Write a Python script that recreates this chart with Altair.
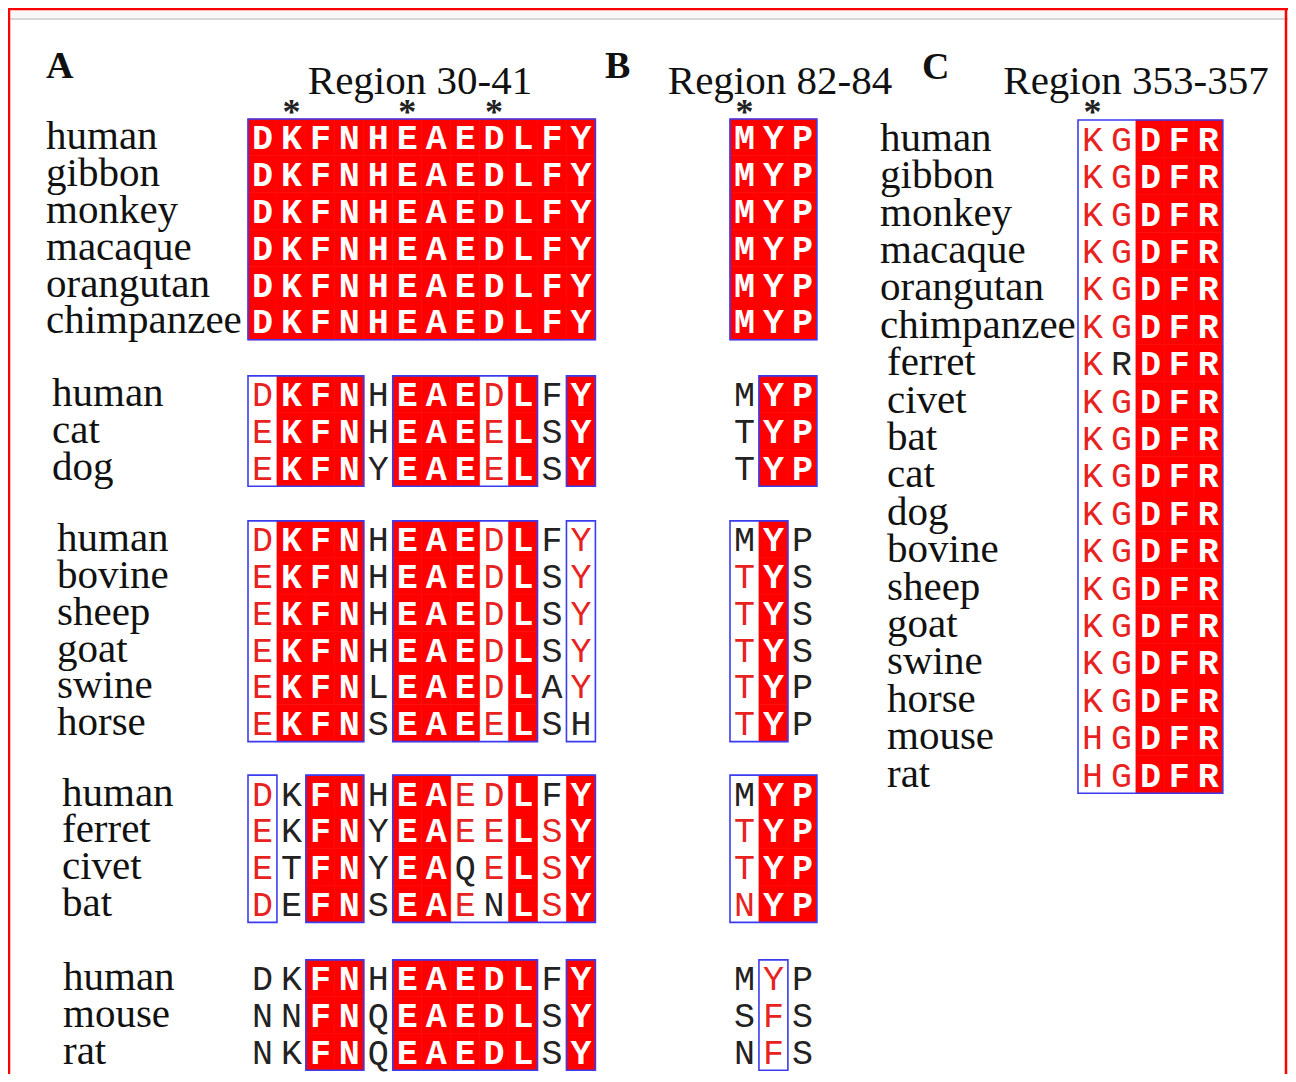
import altair as alt
import pandas as pd

# ---------------- data ----------------
# Panel A : Region 30-41
A_species = [
    ["human", "gibbon", "monkey", "macaque", "orangutan", "chimpanzee"],
    ["human", "cat", "dog"],
    ["human", "bovine", "sheep", "goat", "swine", "horse"],
    ["human", "ferret", "civet", "bat"],
    ["human", "mouse", "rat"],
]
A_seqs = [
    ["DKFNHEAEDLFY", "DKFNHEAEDLFY", "DKFNHEAEDLFY", "DKFNHEAEDLFY", "DKFNHEAEDLFY", "DKFNHEAEDLFY"],
    ["DKFNHEAEDLFY", "EKFNHEAEELSY", "EKFNYEAEELSY"],
    ["DKFNHEAEDLFY", "EKFNHEAEDLSY", "EKFNHEAEDLSY", "EKFNHEAEDLSY", "EKFNLEAEDLAY", "EKFNSEAEELSH"],
    ["DKFNHEAEDLFY", "EKFNYEAEELSY", "ETFNYEAQELSY", "DEFNSEAENLSY"],
    ["DKFNHEAEDLFY", "NNFNQEAEDLSY", "NKFNQEAEDLSY"],
]
# R = identical (red box, white letter), r = similar (red letter), k = other (black letter)
A_styles = [
    ["RRRRRRRRRRRR"] * 6,
    ["rRRRkRRRrRkR", "rRRRkRRRrRkR", "rRRRkRRRrRkR"],
    ["rRRRkRRRrRkr", "rRRRkRRRrRkr", "rRRRkRRRrRkr", "rRRRkRRRrRkr", "rRRRkRRRrRkr", "rRRRkRRRrRkk"],
    ["rkRRkRRrrRkR", "rkRRkRRrrRrR", "rkRRkRRkrRrR", "rkRRkRRrkRrR"],
    ["kkRRkRRRRRkR", "kkRRkRRRRRkR", "kkRRkRRRRRkR"],
]
A_boxes = [
    [(0, 12)],
    [(0, 4), (5, 10), (11, 12)],
    [(0, 4), (5, 10), (11, 12)],
    [(0, 1), (2, 4), (5, 12)],
    [(2, 4), (5, 10), (11, 12)],
]
A_stars = [1, 5, 8]

# Panel B : Region 82-84
B_seqs = [
    ["MYP", "MYP", "MYP", "MYP", "MYP", "MYP"],
    ["MYP", "TYP", "TYP"],
    ["MYP", "TYS", "TYS", "TYS", "TYP", "TYP"],
    ["MYP", "TYP", "TYP", "NYP"],
    ["MYP", "SFS", "NFS"],
]
B_styles = [
    ["RRR"] * 6,
    ["kRR", "kRR", "kRR"],
    ["kRk", "rRk", "rRk", "rRk", "rRk", "rRk"],
    ["kRR", "rRR", "rRR", "rRR"],
    ["krk", "krk", "krk"],
]
B_boxes = [[(0, 3)], [(1, 3)], [(0, 2)], [(0, 3)], [(1, 2)]]
B_stars = [0]

# Panel C : Region 353-357
C_species = ["human", "gibbon", "monkey", "macaque", "orangutan", "chimpanzee",
             "ferret", "civet", "bat", "cat", "dog", "bovine", "sheep", "goat",
             "swine", "horse", "mouse", "rat"]
C_seqs = ["KGDFR", "KGDFR", "KGDFR", "KGDFR", "KGDFR", "KGDFR", "KRDFR", "KGDFR",
          "KGDFR", "KGDFR", "KGDFR", "KGDFR", "KGDFR", "KGDFR", "KGDFR", "KGDFR",
          "HGDFR", "HGDFR"]
C_styles = ["rrRRR", "rrRRR", "rrRRR", "rrRRR", "rrRRR", "rrRRR", "rkRRR", "rrRRR",
            "rrRRR", "rrRRR", "rrRRR", "rrRRR", "rrRRR", "rrRRR", "rrRRR", "rrRRR",
            "rrRRR", "rrRRR"]
C_boxes = [(0, 5)]
C_stars = [0]

titles = ["Region 30-41", "Region 82-84", "Region 353-357"]
panel_letters = ["A", "B", "C"]

# ---------------- layout (in column / row units) ----------------
COLW, ROWH = 28.95, 36.8          # pixels per column / row
X0, Y0 = 248, 119                 # page position of column 0 / row 0
W, H = 1280, 1066
def pc(px): return (px - X0) / COLW
def pr(py): return (py - Y0) / ROWH

group_rows = [0, 6.98, 10.92, 17.83, 22.85]
A_off, B_off, C_off = 0.0, pc(730), pc(1078)
C_rowscale = 37.4 / ROWH
A_label_x = [pc(46), pc(52), pc(57), pc(62), pc(63)]

cells, boxes, labels = [], [], []
for g in range(5):
    for i, (seq, sty) in enumerate(zip(A_seqs[g], A_styles[g])):
        r = group_rows[g] + i
        for c, (ch, s) in enumerate(zip(seq, sty)):
            cells.append(dict(x=A_off + c, x2=A_off + c + 1, y=r, y2=r + 1,
                              xc=A_off + c + 0.5, yc=r + 0.5, t=ch, s=s))
        labels.append(dict(x=A_label_x[g], y=r + 0.5, t=A_species[g][i]))
    for (a, b) in A_boxes[g]:
        boxes.append(dict(x=A_off + a, x2=A_off + b, y=group_rows[g],
                          y2=group_rows[g] + len(A_seqs[g])))
    for i, (seq, sty) in enumerate(zip(B_seqs[g], B_styles[g])):
        r = group_rows[g] + i
        for c, (ch, s) in enumerate(zip(seq, sty)):
            cells.append(dict(x=B_off + c, x2=B_off + c + 1, y=r, y2=r + 1,
                              xc=B_off + c + 0.5, yc=r + 0.5, t=ch, s=s))
    for (a, b) in B_boxes[g]:
        boxes.append(dict(x=B_off + a, x2=B_off + b, y=group_rows[g],
                          y2=group_rows[g] + len(B_seqs[g])))

for i, (seq, sty) in enumerate(zip(C_seqs, C_styles)):
    r0 = pr(120) + i * C_rowscale
    r1 = r0 + C_rowscale
    for c, (ch, s) in enumerate(zip(seq, sty)):
        cells.append(dict(x=C_off + c, x2=C_off + c + 1, y=r0, y2=r1,
                          xc=C_off + c + 0.5, yc=(r0 + r1) / 2, t=ch, s=s))
    labels.append(dict(x=pc(880) if i < 6 else pc(887), y=(r0 + r1) / 2, t=C_species[i]))
for (a, b) in C_boxes:
    boxes.append(dict(x=C_off + a, x2=C_off + b, y=pr(120),
                      y2=pr(120) + len(C_seqs) * C_rowscale))

stars = ([dict(x=A_off + c + 0.5) for c in A_stars] +
         [dict(x=B_off + c + 0.5) for c in B_stars] +
         [dict(x=C_off + c + 0.5) for c in C_stars])
for s in stars:
    s["y"] = pr(124)
    s["t"] = "*"

title_df = pd.DataFrame(dict(x=[pc(420), pc(780), pc(1136)], y=[pr(94)] * 3, t=titles))
letter_df = pd.DataFrame(dict(x=[pc(46), pc(605), pc(922)], y=[pr(78), pr(78), pr(79)],
                              t=panel_letters))

cells = pd.DataFrame(cells)
boxes = pd.DataFrame(boxes)
labels = pd.DataFrame(labels)
stars = pd.DataFrame(stars)

xs = alt.Scale(domain=[pc(8), pc(8 + W)], nice=False, zero=False)
ys = alt.Scale(domain=[pr(8), pr(8 + H)], nice=False, zero=False, reverse=True)

def X(f="x"): return alt.X(f"{f}:Q", scale=xs, axis=None)
def Y(f="y"): return alt.Y(f"{f}:Q", scale=ys, axis=None)

RED = "#ff0000"
BLUE = "#3b3bf0"
MONO = "Liberation Mono"
SERIF = "Liberation Serif"

red_cells = alt.Chart(cells).transform_filter("datum.s == 'R'").mark_rect(
    color=RED, stroke=RED, strokeWidth=0.6).encode(
    x=X(), x2="x2:Q", y=Y(), y2="y2:Q")

box_layer = alt.Chart(boxes).mark_rect(
    filled=False, stroke=BLUE, strokeWidth=1.6).encode(
    x=X(), x2="x2:Q", y=Y(), y2="y2:Q")

def letters(style, color, weight):
    return alt.Chart(cells).transform_filter(f"datum.s == '{style}'").mark_text(
        font=MONO, fontSize=35, fontWeight=weight, color=color,
        baseline="middle", align="center", dy=1).encode(
        x=X("xc"), y=Y("yc"), text="t:N")

label_layer = alt.Chart(labels).mark_text(
    font=SERIF, fontSize=41, color="#111111", align="left", baseline="middle").encode(
    x=X(), y=Y(), text="t:N")

title_layer = alt.Chart(title_df).mark_text(
    font=SERIF, fontSize=41, color="#111111", align="center", baseline="alphabetic").encode(
    x=X(), y=Y(), text="t:N")

letter_layer = alt.Chart(letter_df).mark_text(
    font=SERIF, fontSize=38, fontWeight="bold", color="#111111",
    align="left", baseline="alphabetic").encode(
    x=X(), y=Y(), text="t:N")

star_layer = alt.Chart(stars).mark_text(
    font=SERIF, fontSize=36, fontWeight="bold", color="#222222",
    align="center", baseline="alphabetic").encode(
    x=X(), y=Y(), text="t:N")

one = pd.DataFrame({"a": [0]})
band = alt.Chart(one).mark_rect(color="#f7f7f7").encode(
    x=alt.value(0), x2=alt.value(W), y=alt.value(0), y2=alt.value(10))
band_line = alt.Chart(one).mark_rule(color="#d6d6d6", strokeWidth=2).encode(
    x=alt.value(0), x2=alt.value(W), y=alt.value(11))
frame_top = alt.Chart(one).mark_rule(color=RED, strokeWidth=2.5).encode(
    x=alt.value(0), x2=alt.value(W), y=alt.value(1))
frame_left = alt.Chart(one).mark_rule(color=RED, strokeWidth=2.5).encode(
    x=alt.value(1), y=alt.value(0), y2=alt.value(H))
frame_right = alt.Chart(one).mark_rule(color=RED, strokeWidth=2.5).encode(
    x=alt.value(W - 2), y=alt.value(0), y2=alt.value(H))

chart = alt.layer(
    band, band_line,
    red_cells, box_layer,
    letters("R", "#ffffff", "bold"),
    letters("r", "#e8231f", "normal"),
    letters("k", "#222222", "normal"),
    label_layer, title_layer, letter_layer, star_layer,
    frame_top, frame_left, frame_right,
).properties(
    width=W, height=H, padding=0, autosize=alt.AutoSizeParams(type="none"),
    background="white",
).configure_view(stroke=None)

chart.save("out.html", embed_options={"renderer": "svg", "actions": False})
